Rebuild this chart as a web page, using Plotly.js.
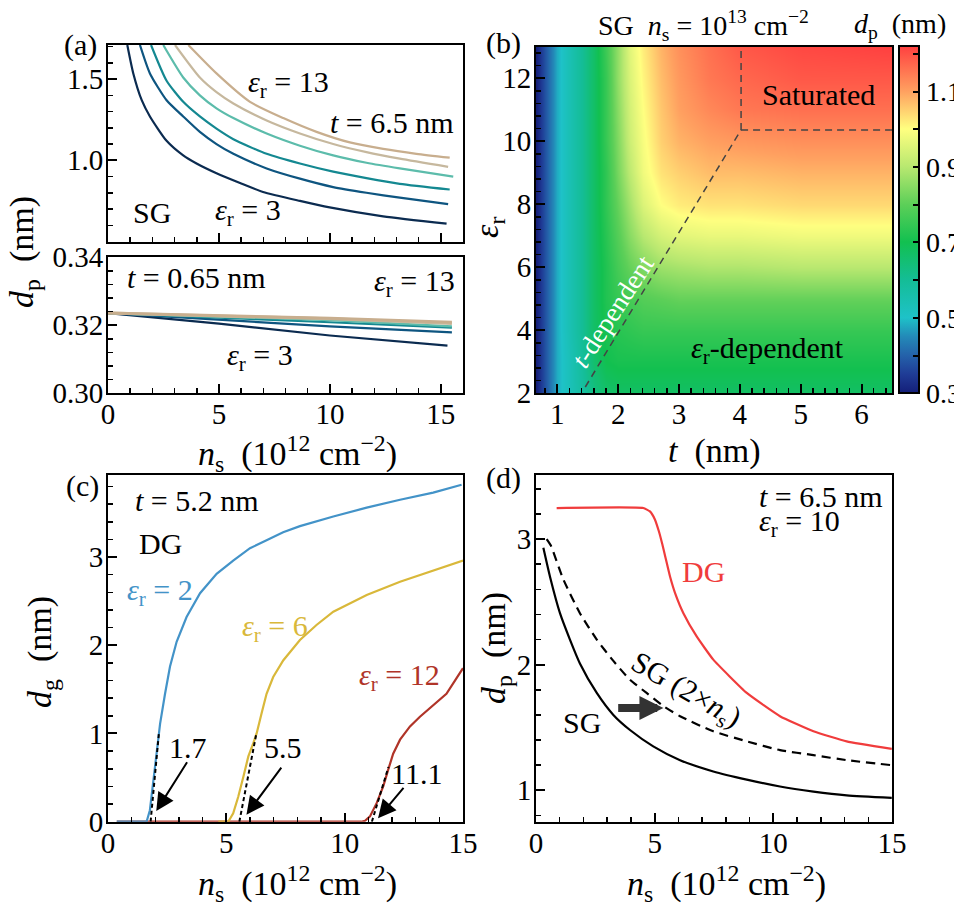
<!DOCTYPE html>
<html>
<head>
<meta charset="utf-8">
<script src="https://cdn.plot.ly/plotly-3.0.1.min.js"></script>
<style>html,body{margin:0;padding:0;background:#fff;}#chart{width:954px;height:910px;}</style>
</head>
<body>
<div id="chart"></div>
<script>
// ---------------- DATA ----------------
// Panel (a) top: SG, t = 6.5 nm, d_p vs n_s for eps_r = 3..13
const epsA = [3, 5, 7, 9, 11, 13];
const aTopX_e3 = [0.87,1.14,1.52,1.89,2.64,3.39,3.99,4.89,5.95,6.99,8.65,9.99,12.40,15.26];
const aTopY_e3 = [1.71,1.535,1.37,1.27,1.12,1.03,0.98,0.92,0.86,0.805,0.75,0.71,0.655,0.61];
const aTopX_e5 = [1.44,1.89,2.64,3.39,4.14,4.89,5.65,7.15,8.65,10.15,11.65,13.15,15.33];
const aTopY_e5 = [1.71,1.535,1.37,1.27,1.175,1.10,1.04,0.95,0.887,0.835,0.80,0.77,0.73];
const aTopX_e7 = [1.94,2.64,3.39,4.14,4.89,5.65,7.15,8.65,10.15,11.65,13.15,15.4];
const aTopY_e7 = [1.71,1.49,1.36,1.27,1.195,1.13,1.04,0.98,0.93,0.89,0.855,0.82];
const aTopX_e9 = [2.49,3.39,4.14,4.89,5.65,7.15,8.65,10.15,11.65,13.15,15.56];
const aTopY_e9 = [1.71,1.51,1.40,1.32,1.26,1.165,1.09,1.03,0.985,0.95,0.90];
const aTopX_e11 = [3.02,4.14,4.89,5.65,7.15,8.65,10.15,11.65,13.15,15.33];
const aTopY_e11 = [1.71,1.51,1.42,1.35,1.245,1.165,1.10,1.05,1.01,0.96];
const aTopX_e13 = [3.62,4.89,6.4,7.9,9.4,10.9,12.4,13.9,15.4];
const aTopY_e13 = [1.71,1.535,1.36,1.26,1.175,1.11,1.07,1.04,1.016];

// Panel (a) bottom: t = 0.65 nm
const aBotX = [0, 5, 10, 15.3];
const aBotX2 = [0, 5, 10, 15.5];
const aBotY_e3 = [0.3236, 0.3205, 0.3170, 0.3140];
const aBotY_e5 = [0.3236, 0.3217, 0.3197, 0.3179];
const aBotY_e7 = [0.3236, 0.3223, 0.3209, 0.3193];
const aBotY_e9 = [0.3236, 0.3226, 0.3215, 0.3197];
const aBotY_e11 = [0.3236, 0.3227, 0.3219, 0.3205];
const aBotY_e13 = [0.3236, 0.3229, 0.3221, 0.3209];

// Panel (b): SG, n_s = 1e13 cm^-2, d_p(t, eps_r)
const tGrid = [0.65,0.8,1.0,1.2,1.4,1.6,1.8,2.0,2.2,2.4,2.7,3.0,3.5,4.0,5.0,6.5];
const epsGrid = [2,3,4,5,6,7,8,9,10,11,12,13];
const dpGrid = [
  [0.30,0.38,0.48,0.53,0.58,0.63,0.66,0.67,0.67,0.67,0.67,0.67,0.67,0.67,0.67,0.67],
  [0.30,0.38,0.48,0.53,0.59,0.66,0.70,0.71,0.71,0.71,0.71,0.71,0.71,0.71,0.71,0.71],
  [0.30,0.38,0.48,0.54,0.60,0.67,0.71,0.73,0.74,0.75,0.75,0.75,0.75,0.75,0.75,0.75],
  [0.30,0.38,0.48,0.54,0.60,0.67,0.72,0.75,0.77,0.79,0.80,0.81,0.81,0.81,0.81,0.81],
  [0.30,0.38,0.48,0.54,0.60,0.67,0.72,0.77,0.81,0.84,0.87,0.88,0.89,0.89,0.90,0.90],
  [0.30,0.38,0.48,0.54,0.60,0.67,0.73,0.79,0.85,0.90,0.94,0.96,0.97,0.97,0.98,0.98],
  [0.30,0.38,0.48,0.54,0.60,0.67,0.74,0.81,0.88,0.95,1.00,1.02,1.03,1.03,1.04,1.04],
  [0.30,0.38,0.48,0.54,0.60,0.67,0.74,0.83,0.91,0.98,1.03,1.05,1.07,1.07,1.08,1.08],
  [0.30,0.38,0.48,0.54,0.60,0.67,0.75,0.84,0.93,0.99,1.05,1.08,1.10,1.11,1.12,1.12],
  [0.30,0.38,0.48,0.54,0.60,0.67,0.75,0.85,0.94,1.00,1.06,1.10,1.13,1.15,1.16,1.16],
  [0.30,0.38,0.48,0.54,0.60,0.67,0.75,0.86,0.95,1.01,1.07,1.11,1.15,1.17,1.19,1.19],
  [0.30,0.38,0.48,0.54,0.60,0.67,0.76,0.86,0.96,1.02,1.08,1.12,1.16,1.19,1.21,1.22]
];
// regime boundaries in (b)
const boundDiagT = [1.46, 4.02];
const boundDiagEps = [2.2, 10.36];
const boundVertT = [4.02, 4.02];
const boundVertEps = [10.36, 13];
const boundHorT = [4.02, 6.5];
const boundHorEps = [10.36, 10.36];
const cbTickVals = [0.3, 0.4, 0.5, 0.6, 0.7, 0.8, 0.9, 1.0, 1.1, 1.2];
const cbTickText = ['0.3', '', '0.5', '', '0.7', '', '0.9', '', '1.1', ''];

// Panel (c): DG, t = 5.2 nm, d_g vs n_s
const cX_e2 = [0.37,1.63,1.77,1.91,2.06,2.20,2.41,2.62,2.90,3.32,3.89,4.59,5.29,6.0,6.70,7.40,8.11,9.52,10.93,12.34,13.74,14.94];
const cY_e2 = [0,0,0.13,0.47,0.81,1.11,1.45,1.76,2.04,2.32,2.59,2.81,2.96,3.10,3.19,3.28,3.35,3.46,3.56,3.65,3.73,3.82];
const cX_e6 = [4.66,5.08,5.29,5.50,5.72,5.93,6.14,6.28,6.49,6.70,6.98,7.41,8.11,8.81,9.52,10.93,12.34,13.74,15.0];
const cY_e6 = [0,0,0.095,0.28,0.51,0.74,0.89,1.0,1.23,1.45,1.64,1.83,2.06,2.23,2.38,2.57,2.72,2.85,2.96];
const cX_e12 = [0.37,10.7,10.86,11.07,11.35,11.63,11.84,12.05,12.34,12.76,13.18,13.74,14.3,15.0];
const cY_e12 = [0,0,0.01,0.06,0.21,0.40,0.59,0.77,0.93,1.08,1.19,1.32,1.45,1.74];
const fitX_e2 = [1.8, 2.15];
const fitY_e2 = [0, 1.0];
const fitX_e6 = [5.55, 6.27];
const fitY_e6 = [0, 1.0];
const fitX_e12 = [11.15, 11.85];
const fitY_e12 = [0, 0.62];
const onsetLabels = ['1.7', '5.5', '11.1'];

// Panel (d): t = 6.5 nm, eps_r = 10
const dX_DG = [0.87,4.52,4.80,5.0,5.18,5.32,5.46,5.65,5.86,6.21,6.77,7.47,8.88,10.28,11.69,13.09,14.99];
const dY_DG = [3.247,3.247,3.22,3.16,3.06,2.96,2.85,2.70,2.57,2.41,2.225,2.04,1.775,1.59,1.47,1.39,1.33];
const dX_SG = [0.31,0.59,1.01,1.43,1.85,2.56,3.26,3.96,4.94,6.07,7.47,8.88,10.28,11.69,13.09,14.99];
const dY_SG = [2.93,2.70,2.41,2.20,2.01,1.775,1.60,1.48,1.35,1.24,1.15,1.085,1.03,0.99,0.96,0.94];
const dX_SG2 = [0.45,0.62,1.15,1.85,2.56,3.26,3.96,4.66,5.37,6.07,7.47,8.88,10.28,11.69,13.09,14.99];
const dY_SG2 = [3.0,2.95,2.68,2.41,2.20,2.03,1.88,1.775,1.67,1.59,1.47,1.39,1.32,1.28,1.24,1.20];

// ---------------- STYLE ----------------
const FONT = 'Liberation Serif, DejaVu Serif, serif';
const TF = 29;   // tick font size
const LF = 30;   // in-plot text size
const XF = 34;   // axis title size
const NB = '\u00a0';
const colorsA = ['#0b2b50', '#0e5580', '#148891', '#5cbcab', '#c6b89e', '#c8ae8e'];
const cBlue = '#4393c8', cYellow = '#d9b83a', cRed = '#b03428', dRed = '#f03c3c';

const W = 954, H = 910;
const px = v => v / W;
const py = v => 1 - v / H;

function axX(extra) {
  return Object.assign({
    showline: true, linewidth: 2, linecolor: 'black', mirror: true,
    ticks: 'inside', ticklen: 9, tickwidth: 2, tickcolor: 'black',
    showgrid: false, zeroline: false, automargin: false,
    tickfont: {family: FONT, size: TF, color: 'black'},
    ticklabelstandoff: -6
  }, extra);
}
function axY(extra) {
  return axX(Object.assign({ticklabelstandoff: -3}, extra));
}
function minor(d) { return {dtick: d, ticks: 'inside', ticklen: 5, tickwidth: 1.5, tickcolor: 'black', showgrid: false}; }

const traces = [];
const aTopXs = [aTopX_e3, aTopX_e5, aTopX_e7, aTopX_e9, aTopX_e11, aTopX_e13];
const aTopYs = [aTopY_e3, aTopY_e5, aTopY_e7, aTopY_e9, aTopY_e11, aTopY_e13];
const aBotYs = [aBotY_e3, aBotY_e5, aBotY_e7, aBotY_e9, aBotY_e11, aBotY_e13];
epsA.forEach((e, i) => {
  traces.push({x: aTopXs[i], y: aTopYs[i], xaxis: 'x2', yaxis: 'y2', mode: 'lines',
    line: {color: colorsA[i], width: 2.2, shape: 'spline', smoothing: 0.6}, name: 'εr=' + e, showlegend: false});
});
epsA.forEach((e, i) => {
  traces.push({x: i === 0 ? aBotX : aBotX2, y: aBotYs[i], xaxis: 'x', yaxis: 'y', mode: 'lines',
    line: {color: colorsA[i], width: i >= 4 ? 3 : 2.2}, name: 'εr=' + e, showlegend: false});
});

// (b) heatmap
traces.push({
  type: 'heatmap', x: tGrid, y: epsGrid, z: dpGrid, xaxis: 'x3', yaxis: 'y3',
  zsmooth: 'best', zmin: 0.3, zmax: 1.22,
  colorscale: [
    [0.000, '#141e78'], [0.054, '#1f3c96'], [0.109, '#2462aa'], [0.163, '#238ab8'],
    [0.217, '#1ec2c8'], [0.326, '#14bd96'], [0.435, '#12c050'], [0.543, '#5ccf58'],
    [0.652, '#b8e870'], [0.761, '#ffff80'], [0.815, '#ffd070'], [0.870, '#ffa060'],
    [1.000, '#ff4040']
  ],
  colorbar: {
    x: px(899), xanchor: 'left', y: py(393.3), yanchor: 'bottom',
    len: (393.3 - 46.7) / H, lenmode: 'fraction', thickness: 20, thicknessmode: 'pixels',
    outlinewidth: 2, outlinecolor: 'black',
    ticks: 'inside', ticklen: 7, tickwidth: 2, tickcolor: 'black',
    tickvals: cbTickVals, ticktext: cbTickText,
    tickfont: {family: FONT, size: 28, color: 'black'}, ypad: 0, xpad: 0
  },
  showscale: true
});
[[boundDiagT, boundDiagEps], [boundVertT, boundVertEps], [boundHorT, boundHorEps]].forEach(p => {
  traces.push({x: p[0], y: p[1], xaxis: 'x3', yaxis: 'y3', mode: 'lines',
    line: {color: '#444', width: 1.5, dash: '7px,5px'}, showlegend: false});
});

// (c)
traces.push({x: cX_e12, y: cY_e12, xaxis: 'x4', yaxis: 'y4', mode: 'lines', line: {color: cRed, width: 2.2}, showlegend: false});
traces.push({x: cX_e6, y: cY_e6, xaxis: 'x4', yaxis: 'y4', mode: 'lines', line: {color: cYellow, width: 2.2}, showlegend: false});
traces.push({x: cX_e2, y: cY_e2, xaxis: 'x4', yaxis: 'y4', mode: 'lines', line: {color: cBlue, width: 2.2}, showlegend: false});
[[fitX_e2, fitY_e2], [fitX_e6, fitY_e6], [fitX_e12, fitY_e12]].forEach(p => {
  traces.push({x: p[0], y: p[1], xaxis: 'x4', yaxis: 'y4', mode: 'lines',
    line: {color: 'black', width: 2, dash: '4px,3px'}, showlegend: false});
});

// (d)
traces.push({x: dX_DG, y: dY_DG, xaxis: 'x5', yaxis: 'y5', mode: 'lines', line: {color: dRed, width: 2.2, shape: 'spline', smoothing: 0.4}, showlegend: false});
traces.push({x: dX_SG, y: dY_SG, xaxis: 'x5', yaxis: 'y5', mode: 'lines', line: {color: 'black', width: 2.2, shape: 'spline', smoothing: 0.6}, showlegend: false});
traces.push({x: dX_SG2, y: dY_SG2, xaxis: 'x5', yaxis: 'y5', mode: 'lines', line: {color: 'black', width: 2.2, dash: '9px,6px', shape: 'spline', smoothing: 0.6}, showlegend: false});

// ---------------- ANNOTATIONS ----------------
const F = (size, color) => ({family: FONT, size: size || LF, color: color || 'black'});
const ann = [];
function paperText(text, x, y, opts) {
  ann.push(Object.assign({text, x: px(x), y: py(y), xref: 'paper', yref: 'paper', showarrow: false,
    xanchor: 'center', yanchor: 'middle', font: F()}, opts || {}));
}
function dataText(text, xa, ya, x, y, opts) {
  ann.push(Object.assign({text, x, y, xref: xa, yref: ya, showarrow: false,
    xanchor: 'center', yanchor: 'middle', font: F()}, opts || {}));
}
// panel labels
paperText('(a)', 80, 45);
paperText('(b)', 503, 43);
paperText('(c)', 82, 486);
paperText('(d)', 503, 478);
// axis titles
const nsTitle = '<i>n</i><sub>s</sub>' + NB + NB + '(10<sup>12</sup>' + NB + 'cm<sup>−2</sup>)';
paperText('<i>d</i><sub>p</sub>' + NB + NB + '(nm)', 24, 252, {textangle: -90, font: F(XF)});
paperText(nsTitle, 297, 453, {font: F(XF)});
paperText('<i>ε</i><sub>r</sub>', 489, 228, {textangle: -90, font: F(XF)});
paperText('<i>t</i>' + NB + NB + '(nm)', 714, 451, {font: F(XF)});
paperText('<i>d</i><sub>g</sub>' + NB + NB + '(nm)', 42, 652, {textangle: -90, font: F(XF)});
paperText(nsTitle, 297, 883, {font: F(XF)});
paperText('<i>d</i><sub>p</sub>' + NB + NB + '(nm)', 496, 648, {textangle: -90, font: F(XF)});
paperText(nsTitle, 726, 883, {font: F(XF)});
paperText('SG' + NB + NB + '<i>n</i><sub>s</sub> = 10<sup>13</sup>' + NB + 'cm<sup>−2</sup>', 703, 25, {font: F(28)});
paperText('<i>d</i><sub>p</sub>' + NB + NB + '(nm)', 900, 25, {font: F(28)});

// (a) texts
dataText('<i>ε</i><sub>r</sub> = 13', 'x2', 'y2', 8.15, 1.47);
dataText('<i>t</i> = 6.5' + NB + 'nm', 'x2', 'y2', 12.8, 1.235);
dataText('SG', 'x2', 'y2', 1.98, 0.68);
dataText('<i>ε</i><sub>r</sub> = 3', 'x2', 'y2', 6.3, 0.68);
dataText('<i>t</i> = 0.65' + NB + 'nm', 'x', 'y', 4.0, 0.3341);
dataText('<i>ε</i><sub>r</sub> = 13', 'x', 'y', 13.8, 0.3324);
dataText('<i>ε</i><sub>r</sub> = 3', 'x', 'y', 6.85, 0.3106);
// (b) texts
dataText('Saturated', 'x3', 'y3', 5.29, 11.47);
dataText('<i>ε</i><sub>r</sub>-dependent', 'x3', 'y3', 4.46, 3.38);
dataText('<i>t</i>-dependent', 'x3', 'y3', 1.92, 4.6, {textangle: -57, font: F(27, 'white')});
// (c) texts
dataText('<i>t</i> = 5.2' + NB + 'nm', 'x4', 'y4', 3.75, 3.64);
dataText('DG', 'x4', 'y4', 2.2, 3.15);
dataText('<i>ε</i><sub>r</sub> = 2', 'x4', 'y4', 2.2, 2.6, {font: F(LF, cBlue)});
dataText('<i>ε</i><sub>r</sub> = 6', 'x4', 'y4', 7.05, 2.2, {font: F(LF, cYellow)});
dataText('<i>ε</i><sub>r</sub> = 12', 'x4', 'y4', 12.3, 1.64, {font: F(LF, cRed)});
dataText(onsetLabels[0], 'x4', 'y4', 3.38, 0.84);
dataText(onsetLabels[1], 'x4', 'y4', 7.39, 0.84);
dataText(onsetLabels[2], 'x4', 'y4', 13.03, 0.55);
[[2.04, 0.12, 3.38, 0.69], [5.85, 0.08, 7.37, 0.63], [11.41, 0.04, 12.54, 0.40]].forEach(a => {
  ann.push({x: a[0], y: a[1], ax: a[2], ay: a[3], xref: 'x4', yref: 'y4', axref: 'x4', ayref: 'y4',
    text: '', showarrow: true, arrowhead: 2, arrowsize: 1.8, arrowwidth: 2, arrowcolor: 'black'});
});
// (d) texts
dataText('<i>t</i> = 6.5' + NB + 'nm', 'x5', 'y5', 9.3, 3.34, {xanchor: 'left'});
dataText('<i>ε</i><sub>r</sub> = 10', 'x5', 'y5', 9.3, 3.13, {xanchor: 'left'});
dataText('DG', 'x5', 'y5', 7.05, 2.74, {font: F(LF, dRed)});
dataText('SG', 'x5', 'y5', 1.92, 1.54);
dataText('SG (2×<i>n</i><sub>s</sub>)', 'x5', 'y5', 6.28, 1.79, {textangle: 30});
ann.push({x: 5.37, y: 1.655, ax: 3.40, ay: 1.655, xref: 'x5', yref: 'y5', axref: 'x5', ayref: 'y5',
  text: '', showarrow: true, arrowhead: 2, arrowsize: 0.6, arrowwidth: 8, arrowcolor: '#333'});

// ---------------- LAYOUT ----------------
const dA = [px(108), px(463)];
const dR = [px(536), px(892)];
const layout = {
  width: W, height: H, margin: {l: 0, r: 0, t: 0, b: 0, autoexpand: false},
  paper_bgcolor: 'white', plot_bgcolor: 'white', showlegend: false,
  font: {family: FONT, color: 'black'},
  xaxis: axX({domain: dA, anchor: 'y', range: [0, 16], tickvals: [0, 5, 10, 15], minor: minor(1)}),
  yaxis: axY({domain: [py(393.3), py(257.3)], anchor: 'x', range: [0.30, 0.34], tickvals: [0.30, 0.32, 0.34], tickformat: '.2f', minor: minor(0.004)}),
  xaxis2: axX({domain: dA, anchor: 'y2', matches: 'x', range: [0, 16], tickvals: [0, 5, 10, 15], showticklabels: false, minor: minor(1)}),
  yaxis2: axY({domain: [py(241.5), py(45)], anchor: 'x2', range: [0.5, 1.71], tickvals: [1.0, 1.5], tickformat: '.1f', minor: minor(0.1)}),
  xaxis3: axX({domain: dR, anchor: 'y3', range: [0.65, 6.5], tickvals: [1, 2, 3, 4, 5, 6], minor: minor(0.2)}),
  yaxis3: axY({domain: [py(393.3), py(46.7)], anchor: 'x3', range: [2, 13], tickvals: [2, 4, 6, 8, 10, 12], minor: minor(0.4)}),
  xaxis4: axX({domain: dA, anchor: 'y4', range: [0, 15], tickvals: [0, 5, 10, 15], minor: minor(1)}),
  yaxis4: axY({domain: [py(821.7), py(475)], anchor: 'x4', range: [0, 3.93], tickvals: [0, 1, 2, 3], minor: minor(0.2)}),
  xaxis5: axX({domain: dR, anchor: 'y5', range: [0, 15], tickvals: [0, 5, 10, 15], minor: minor(1)}),
  yaxis5: axY({domain: [py(821.7), py(475)], anchor: 'x5', range: [0.75, 3.51], tickvals: [1, 2, 3], minor: minor(0.2)}),
  annotations: ann
};

Plotly.newPlot('chart', traces, layout, {staticPlot: true, displayModeBar: false});
</script>
</body>
</html>
